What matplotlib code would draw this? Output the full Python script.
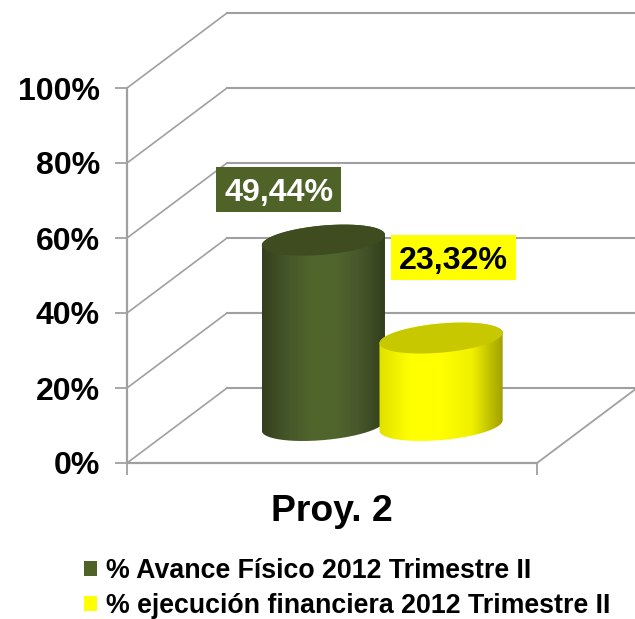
import numpy as np
import matplotlib
matplotlib.use('Agg')
import matplotlib.pyplot as plt
from matplotlib.colors import LinearSegmentedColormap
from matplotlib.patches import Patch, Polygon, Rectangle
from matplotlib.path import Path

plt.rcParams['font.family'] = ['Liberation Sans', 'DejaVu Sans']
plt.rcParams['font.weight'] = 'bold'

category = 'Proy. 2'
series_names = ['% Avance Físico 2012 Trimestre II', '% ejecución financiera 2012 Trimestre II']
series_values = [49.44, 23.32]
value_labels = ['49,44%', '23,32%']
y_ticks = [0, 20, 40, 60, 80, 100]
y_tick_labels = ['0%', '20%', '40%', '60%', '80%', '100%']

# Sizes of the reference, in pixels
W, H = 635, 619
LEFT, RIGHT, BOTTOM, TOP = 127, 537, 463, 88
PX_X = RIGHT - LEFT
PX_Y = (BOTTOM - TOP) / 100
DEPTH_X = 100 / PX_X
DEPTH_Y = 75 / PX_Y
GRID = '#a0a0a0'

fig = plt.figure(figsize=(W / 100, H / 100), dpi=100)
ax = fig.add_axes([LEFT / W, 1 - BOTTOM / H, PX_X / W, (BOTTOM - TOP) / H])
ax.set_xlim(0, 1)
ax.set_ylim(0, 100)
for spine in ax.spines.values():
  spine.set_visible(False)


# ----------------------------------------------------------------
# Draw one cylinder standing in the middle of the floor depth
# ----------------------------------------------------------------
def cylinder(axx, x_mid, value, colors, top_color, z):
  t = np.linspace(0, 2 * np.pi, 241)
  half_w = 58 / PX_X
  depth_x = 20.7 / PX_X
  depth_y = 15.5 / PX_Y
  ex = half_w * np.cos(t) + depth_x * np.sin(t)
  ey = depth_y * np.sin(t)
  base_y = DEPTH_Y / 2
  reach = ex.max()
  # Body: right extreme to left extreme over the top, then the front of the base
  i_r = np.argmax(ex)
  i_l = np.argmin(ex)
  back = np.arange(i_r, i_l + 1)
  front = np.r_[i_l:len(t) - 1, 0:i_r + 1]
  body = np.vstack([
    np.column_stack([x_mid + ex[back], base_y + value + ey[back]]),
    np.column_stack([x_mid + ex[front], base_y + ey[front]]),
  ])
  cmap = LinearSegmentedColormap.from_list('body', colors)
  gradient = np.linspace(0, 1, 256).reshape(1, -1)
  im = axx.imshow(
    gradient, cmap=cmap, aspect='auto', zorder=z, interpolation='bilinear',
    extent=[x_mid - reach, x_mid + reach, 0, base_y + value + depth_y + 1])
  im.set_clip_path(Path(body), transform=axx.transData)
  im.set_clip_on(True)
  axx.add_patch(Polygon(
    np.column_stack([x_mid + ex, base_y + value + ey]), closed=True,
    facecolor=top_color, edgecolor='none', zorder=z + 0.1, clip_on=False))


# Grid: left wall diagonals and back wall lines, which run off the picture
back_end = 1.3
for v in y_ticks:
  ax.plot([0, DEPTH_X], [v, v + DEPTH_Y], color=GRID, lw=1.2, clip_on=False, zorder=1)
  ax.plot([DEPTH_X, back_end], [v + DEPTH_Y, v + DEPTH_Y], color=GRID, lw=1.5, clip_on=False, zorder=1)
ax.plot([0, 1], [0, 0], color=GRID, lw=1.6, clip_on=False, zorder=1)
ax.plot([1, 1 + DEPTH_X], [0, DEPTH_Y], color=GRID, lw=1.3, clip_on=False, zorder=1)
ax.plot([0, 0], [0, 100], color=GRID, lw=1.6, clip_on=False, zorder=1)

# Cylinders
cylinder(ax, 0.479, series_values[0],
         ['#343f1c', '#46562a', '#50652c', '#50652c', '#46562a', '#303e1a'], '#3e4c20', 3)
cylinder(ax, 0.766, series_values[1],
         ['#e0e000', '#ffff00', '#ffff00', '#f0f000', '#a0a000'], '#c8c800', 4)
ax.set_xlim(0, 1)
ax.set_ylim(0, 100)

# Value labels
label_x = [0.37, 0.796]
label_y = [72.9, 54.8]
label_bg = ['#4f6228', '#ffff00']
label_fg = ['white', 'black']
for i in range(2):
  ax.add_patch(Rectangle(
    (label_x[i] - 62.5 / PX_X, label_y[i] - 22.5 / PX_Y), 125 / PX_X, 45 / PX_Y,
    facecolor=label_bg[i], edgecolor='none', zorder=6, clip_on=False))
  ax.text(label_x[i], label_y[i], value_labels[i], color=label_fg[i], fontsize=23.2, fontweight='bold',
          ha='center', va='center_baseline', zorder=7)

# Axes
ax.set_yticks(y_ticks)
ax.set_yticklabels(y_tick_labels, fontsize=23, fontweight='bold')
ax.set_xticks([0, 1])
ax.set_xticklabels(['', ''])
ax.tick_params(axis='both', color=GRID, width=1.3, length=8.5)
ax.tick_params(axis='y', pad=11)
ax.text(0.5, -0.13, category, transform=ax.transAxes, fontsize=26.9, fontweight='bold',
        ha='center', va='center')

# Legend
handles = [Patch(facecolor='#4f6228', edgecolor='none'), Patch(facecolor='#ffff00', edgecolor='none')]
fig.legend(handles, series_names, loc='upper left', bbox_to_anchor=(84 / W, 1 - 558 / H),
           frameon=False, fontsize=19.3, handlelength=0.47, handleheight=0.5, handletextpad=0.36,
           labelspacing=0.33, borderpad=0, borderaxespad=0)

fig.savefig('out.png', dpi=100)
